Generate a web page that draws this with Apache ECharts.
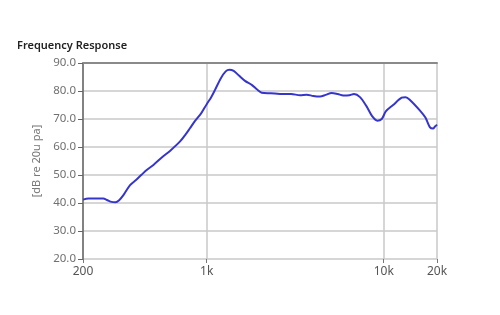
<!DOCTYPE html>
<html><head><meta charset="utf-8">
<script src="https://cdn.jsdelivr.net/npm/echarts@6/dist/echarts.min.js"></script>
<style>html,body{margin:0;padding:0;background:#fff}#c{width:500px;height:315px}</style>
</head><body><div id="c"></div>
<script>
const freqs = [200,215,240,260,275,290,305,320,340,369,400,430,458,500,566,620,707,760,804,859,930,1000,1060,1114,1200,1280,1342,1420,1520,1646,1796,1920,2044,2300,2709,3000,3366,3670,4000,4366,4700,5083,5500,5910,6400,6792,7345,8000,8600,9200,9743,10300,11300,12636,13300,14066,16036,17200,18260,19000,19480,20000];
const levels = [41.2,41.6,41.6,41.6,41.0,40.4,40.3,41.0,43.0,46.4,48.3,50.2,51.8,53.6,56.6,58.6,62.0,64.5,66.7,69.3,72.0,75.3,77.8,80.4,84.5,87.0,87.6,87.2,85.5,83.6,82.2,80.6,79.4,79.2,78.9,78.9,78.5,78.7,78.2,78.0,78.6,79.3,78.9,78.4,78.5,78.9,77.8,74.5,71.0,69.4,70.0,72.8,75.0,77.6,77.8,76.8,73.0,70.5,67.0,66.6,67.3,68.0];
const xTickLabels = {200:'200',1000:'1k',10000:'10k',20000:'20k'};
const title = 'Frequency Response';
const yName = '[dB re 20u pa]';

const chart = echarts.init(document.getElementById('c'), null, {renderer:'canvas'});
const font = 'Noto Sans';
chart.setOption({
  animation:false,
  title:{text:title,left:12,top:35,textStyle:{fontFamily:font,fontSize:11,fontWeight:600,color:'#222'}},
  grid:{left:83,right:63,top:63,bottom:56},
  xAxis:[{
    type:'log',logBase:10,min:200,max:20000,
    axisLine:{show:false},
    axisTick:{show:true,length:4,inside:false,lineStyle:{color:'#777'}},
    axisLabel:{fontFamily:font,fontSize:12,color:'#555',margin:7,showMinLabel:true,showMaxLabel:true,
      formatter:v=>xTickLabels[Math.round(v)]||''},
    splitLine:{show:true,lineStyle:{color:'#c8c8c8',width:1.5}}
  },{
    type:'log',logBase:10,min:200,max:20000,position:'top',
    axisLine:{show:true,lineStyle:{color:'#8a8a8a',width:2}},
    axisTick:{show:false},axisLabel:{show:false},splitLine:{show:false}
  }],
  yAxis:{
    type:'value',min:20,max:90,interval:10,
    name:yName,nameLocation:'middle',nameGap:36,nameRotate:90,
    nameTextStyle:{fontFamily:font,fontSize:11,color:'#777'},
    axisLine:{show:true,lineStyle:{color:'#666',width:1.5}},
    axisTick:{show:true,length:5,lineStyle:{color:'#666'}},
    axisLabel:{fontFamily:font,fontSize:11.5,color:'#707070',margin:7,formatter:v=>v.toFixed(1)},
    splitLine:{show:true,lineStyle:{color:'#c8c8c8',width:1.5}}
  },
  series:[{
    type:'line',xAxisIndex:0,showSymbol:false,smooth:0.3,
    lineStyle:{color:'#3535cc',width:2},
    data:freqs.map((f,i)=>[f,levels[i]])
  }]
});
</script></body></html>
